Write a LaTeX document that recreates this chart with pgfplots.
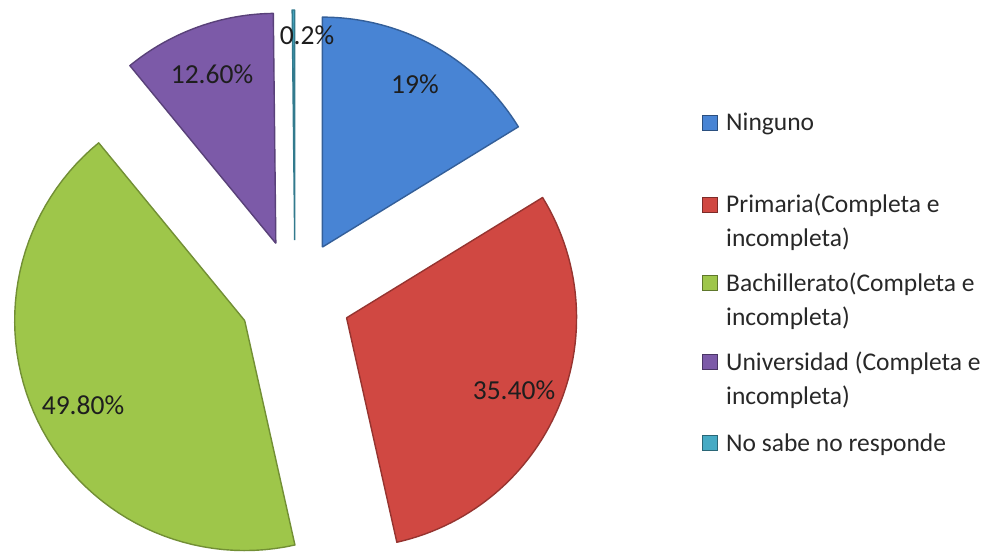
\documentclass[border=0pt]{standalone}
\usepackage{fontspec}
\setmainfont{Carlito}
\usepackage{pgfplots}
\usepackage{pgfplotstable}
\pgfplotsset{compat=1.18}
\definecolor{cA}{RGB}{72,132,212}
\definecolor{cB}{RGB}{208,72,66}
\definecolor{cC}{RGB}{158,198,74}
\definecolor{cD}{RGB}{124,90,168}
\definecolor{cE}{RGB}{70,170,196}
\definecolor{lbl}{RGB}{30,30,30}
\definecolor{leg}{RGB}{40,40,40}

\pgfplotstableread{
name value
Ninguno 19
Primaria 35.4
Bachillerato 49.8
Universidad 12.6
NoSabe 0.2
}\piedata

\newcommand\pieslice[3]{%
  \pgfmathsetmacro\pmid{(#1+#2)/2}%
  \pgfmathsetmacro\pcx{295+56*sin(\pmid)}%
  \pgfmathsetmacro\pcy{296-56*cos(\pmid)}%
  \pgfmathsetmacro\pspan{#2-#1}%
  \edef\pietemp{\noexpand\addplot[fill=#3, draw=#3!72!black, line width=1.4pt, line join=round, domain=0:62, samples=63, variable=\noexpand\t]
   ({\pcx+230*(\noexpand\t>0.5)*(\noexpand\t<61.5)*sin(#1+\pspan*min(max(\noexpand\t-1,0),60)/60)},
    {\pcy-230*(\noexpand\t>0.5)*(\noexpand\t<61.5)*cos(#1+\pspan*min(max(\noexpand\t-1,0),60)/60)});}%
  \pietemp
}

\begin{document}
\begin{tikzpicture}
\pgfplotstablegetelem{0}{value}\of\piedata \let\va\pgfplotsretval
\pgfplotstablegetelem{1}{value}\of\piedata \let\vb\pgfplotsretval
\pgfplotstablegetelem{2}{value}\of\piedata \let\vc\pgfplotsretval
\pgfplotstablegetelem{3}{value}\of\piedata \let\vd\pgfplotsretval
\pgfplotstablegetelem{4}{value}\of\piedata \let\ve\pgfplotsretval
\pgfmathsetmacro\tot{\va+\vb+\vc+\vd+\ve}
\pgfmathsetmacro\aA{0}
\pgfmathsetmacro\aB{\aA+360*(\va/\tot)}
\pgfmathsetmacro\aC{\aB+360*(\vb/\tot)}
\pgfmathsetmacro\aD{\aC+360*(\vc/\tot)}
\pgfmathsetmacro\aE{\aD+360*(\vd/\tot)}
\pgfmathsetmacro\aF{360}
\begin{axis}[x=1pt, y=1pt, xmin=0, xmax=992, ymin=0, ymax=553, y dir=reverse,
  hide axis, clip=false, scale only axis]
\path (axis cs:0,0) rectangle (axis cs:992,553);
\pieslice{\aA}{\aB}{cA}
\pieslice{\aB}{\aC}{cB}
\pieslice{\aC}{\aD}{cC}
\pieslice{\aD}{\aE}{cD}
\pieslice{\aE}{\aF}{cE}
% labels
\tikzset{lbltxt/.style={font=\fontsize{27.5}{32}\selectfont, text=lbl}}
\node[lbltxt] at (axis cs:415,84) {19\%};
\node[lbltxt] at (axis cs:514,390) {35.40\%};
\node[lbltxt] at (axis cs:83,405) {49.80\%};
\node[lbltxt] at (axis cs:212,74) {12.60\%};
\node[lbltxt] at (axis cs:307,35) {0.2\%};
% legend
\draw[fill=cA, draw=cA!60!black] (axis cs:702,115) rectangle (axis cs:717,130);
\draw[fill=cB, draw=cB!60!black] (axis cs:702,197) rectangle (axis cs:717,212);
\draw[fill=cC, draw=cC!60!black] (axis cs:702,275) rectangle (axis cs:717,290);
\draw[fill=cD, draw=cD!60!black] (axis cs:702,354) rectangle (axis cs:717,369);
\draw[fill=cE, draw=cE!60!black] (axis cs:702,435) rectangle (axis cs:717,450);
\tikzset{legtxt/.style={anchor=base west, inner sep=0pt, font=\fontsize{25.5}{30}\selectfont, text=leg}}
\node[legtxt] at (axis cs:726,131) {Ninguno};
\node[legtxt] at (axis cs:726,213) {Primaria(Completa e};
\node[legtxt] at (axis cs:726,247) {incompleta)};
\node[legtxt] at (axis cs:726,291) {Bachillerato(Completa e};
\node[legtxt] at (axis cs:726,325) {incompleta)};
\node[legtxt] at (axis cs:726,370) {Universidad (Completa e};
\node[legtxt] at (axis cs:726,404) {incompleta)};
\node[legtxt] at (axis cs:726,451) {No sabe no responde};
\end{axis}
\end{tikzpicture}
\end{document}
